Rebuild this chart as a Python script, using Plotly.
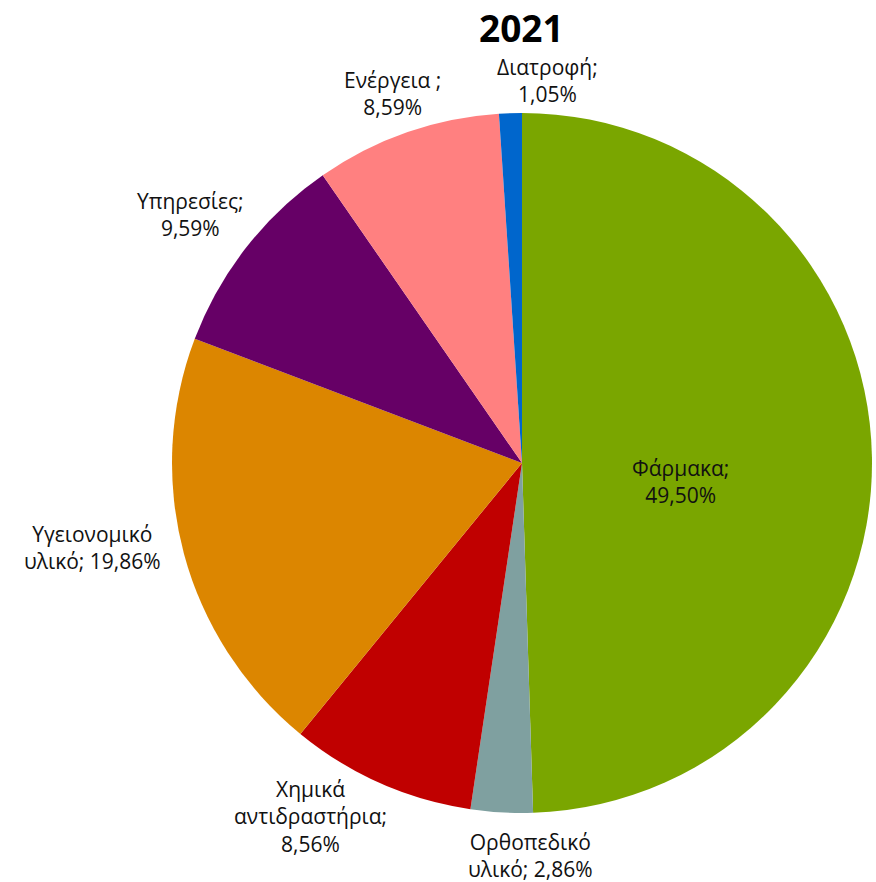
import plotly.graph_objects as go

categories = ["Φάρμακα", "Ορθοπεδικό υλικό", "Χημικά αντιδραστήρια", "Υγειονομικό υλικό",
              "Υπηρεσίες", "Ενέργεια", "Διατροφή"]
values = [49.50, 2.86, 8.56, 19.86, 9.59, 8.59, 1.05]
label_texts = ["Φάρμακα;<br>49,50%", "Ορθοπεδικό<br>υλικό; 2,86%", "Χημικά<br>αντιδραστήρια;<br>8,56%",
               "Υγειονομικό<br>υλικό; 19,86%", "Υπηρεσίες;<br>9,59%", "Ενέργεια ;<br>8,59%",
               "Διατροφή;<br>1,05%"]
colors = ["#7aa600", "#7fa0a0", "#c00000", "#dc8600", "#660066", "#ff8080", "#0066cc"]

W, H = 876, 882
# label centres in pixels (x, y from top)
label_pos = [(680, 481), (530, 855), (310, 816), (92, 547), (190, 214), (392, 93), (547, 81)]

fig = go.Figure()
fig.add_trace(go.Pie(
    labels=categories, values=values, sort=False, direction="clockwise", rotation=0,
    marker=dict(colors=colors, line=dict(width=0)),
    textinfo="none", hoverinfo="skip", showlegend=False,
    domain=dict(x=[172 / W, 872 / W], y=[1 - 813 / H, 1 - 113 / H]),
))

for txt, (px, py) in zip(label_texts, label_pos):
    fig.add_annotation(x=px / W, y=1 - py / H, xref="paper", yref="paper", text=txt,
                       showarrow=False, xanchor="center", yanchor="middle", align="center",
                       font=dict(family="Open Sans", size=21, color="#111111"))

fig.add_annotation(x=521 / W, y=1.0, xref="paper", yref="paper", text="<b>2021</b>",
                   showarrow=False, xanchor="center", yanchor="top",
                   font=dict(family="Open Sans", size=37, color="#000000"))

fig.update_layout(width=W, height=H, margin=dict(l=0, r=0, t=0, b=0),
                  paper_bgcolor="white", plot_bgcolor="white")
fig.write_html("out.html")
